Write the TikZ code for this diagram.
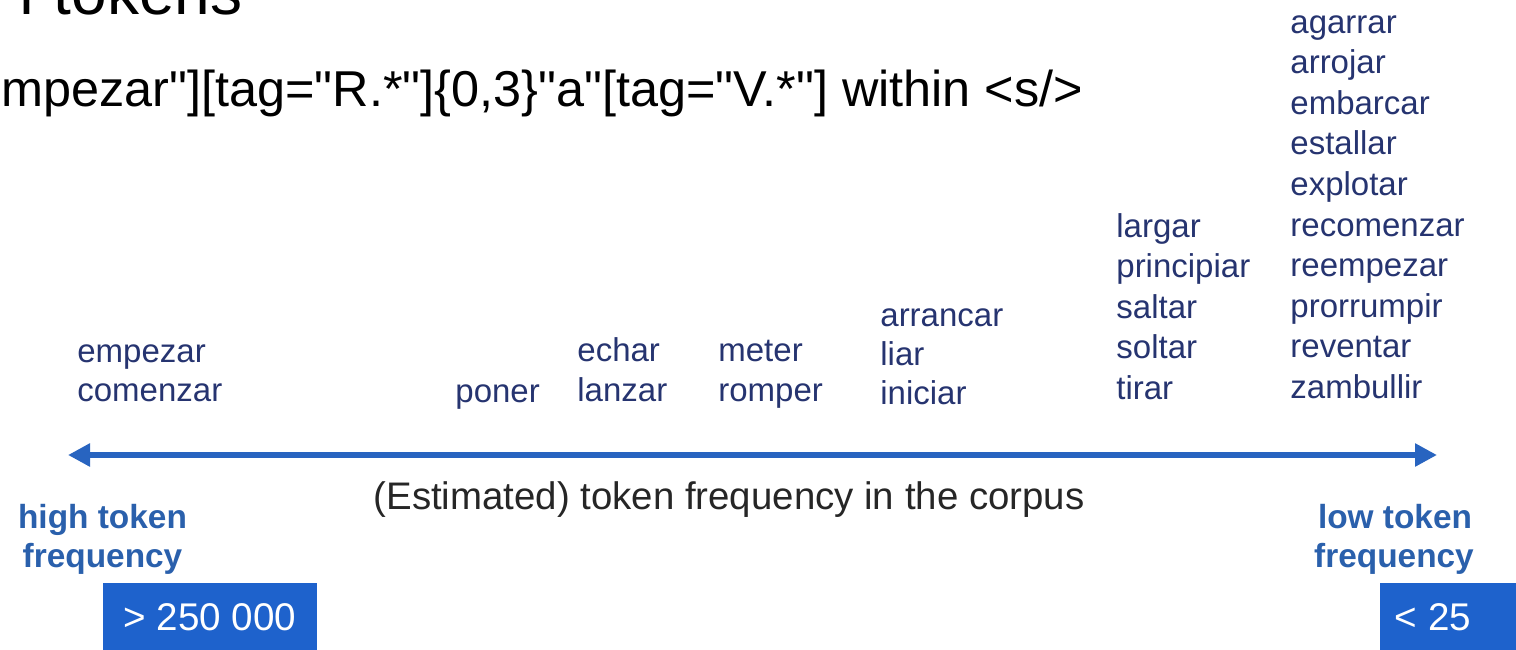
\documentclass[tikz,border=0pt]{standalone}
\usepackage{fontspec}
\setmainfont{Liberation Sans}
\newfontfamily\queryfont{Liberation Sans}[Ligatures=TeXOff]
\usetikzlibrary{arrows.meta}
\definecolor{wordblue}{RGB}{38,52,112}
\definecolor{labelblue}{RGB}{42,96,172}
\definecolor{arrowblue}{RGB}{40,100,192}
\definecolor{boxblue}{RGB}{30,98,204}
\begin{document}
\begin{tikzpicture}[x=0.5pt,y=-0.5pt,
  word/.style={anchor=base west, inner sep=0, text=wordblue, font=\fontsize{16.5}{20}\selectfont},
  endlabel/.style={anchor=base, inner sep=0, text=labelblue, font=\bfseries\fontsize{16.7}{20}\selectfont},
  boxnum/.style={inner sep=0, text=white, font=\fontsize{19.3}{23}\selectfont},
  boxfill/.style={fill=boxblue, draw=none, inner sep=0}]
\useasboundingbox (0,0) rectangle (1516,649);
\clip (0,0) rectangle (1516,649);
\fill[white] (0,0) rectangle (1516,649);

% title and query
\node[anchor=base west, inner sep=0, font=\fontsize{32}{36}\selectfont] (title) at (18,14) {f tokens};
\node[anchor=base west, inner sep=0, font=\queryfont\fontsize{25.2}{30}\selectfont] (query) at (1,106) {mpezar"][tag="R.*"]\{0,3\}"a"[tag="V.*"] within <s/>};

% verb columns
\node[word] (w1a) at (77,362) {empezar};
\node[word] (w1b) at (77,401) {comenzar};
\node[word] (w2a) at (455,402) {poner};
\node[word] (w3a) at (577,361) {echar};
\node[word] (w3b) at (577,401) {lanzar};
\node[word] (w4a) at (718,361) {meter};
\node[word] (w4b) at (718,401.5) {romper};
\node[word] (w5a) at (880,326) {arrancar};
\node[word] (w5b) at (880,365) {liar};
\node[word] (w5c) at (880,404) {iniciar};
\node[word] (w6a) at (1116,237) {largar};
\node[word] (w6b) at (1116,277.5) {principiar};
\node[word] (w6c) at (1116,318) {saltar};
\node[word] (w6d) at (1116,358.5) {soltar};
\node[word] (w6e) at (1116,399) {tirar};
\node[word] (w7a) at (1290,33) {agarrar};
\node[word] (w7b) at (1290,73.6) {arrojar};
\node[word] (w7c) at (1290,114.2) {embarcar};
\node[word] (w7d) at (1290,154.8) {estallar};
\node[word] (w7e) at (1290,195.4) {explotar};
\node[word] (w7f) at (1290,236) {recomenzar};
\node[word] (w7g) at (1290,276.6) {reempezar};
\node[word] (w7h) at (1290,317.2) {prorrumpir};
\node[word] (w7i) at (1290,357.8) {reventar};
\node[word] (w7j) at (1290,398.4) {zambullir};

% axis arrow
\coordinate (lt) at (68,455);
\coordinate (rt) at (1437,455);
\draw[arrowblue, line width=3pt, {Triangle[length=11pt,width=11pt]}-{Triangle[length=11pt,width=11pt]}] (lt) -- (rt);
\node[anchor=base, inner sep=0, text=black!85, font=\fontsize{19.2}{23}\selectfont] (axis) at (729,509) {(Estimated) token frequency in the corpus};

% end labels
\node[endlabel] (hi1) at (102.5,528) {high token};
\node[endlabel] (hi2) at (102.5,567) {frequency};
\node[endlabel] (lo1) at (1395,528) {low token};
\node[endlabel] (lo2) at (1394,567) {frequency};

% boxes
\node[boxfill, minimum width=107pt, minimum height=34pt] (hibox) at (210,617) {};
\node[boxnum] (hinum) at (hibox.center) {> 250 000};
\node[boxfill, minimum width=80pt, minimum height=34pt] (lobox) at (1460,617) {};
\node[boxnum] (lonum) at (1433,617) {< 25};
\end{tikzpicture}
\end{document}
